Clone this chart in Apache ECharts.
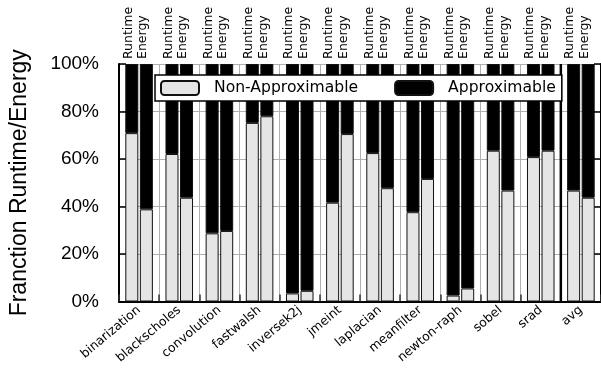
<!DOCTYPE html>
<html>
<head>
<meta charset="utf-8">
<script src="https://cdn.jsdelivr.net/npm/echarts@6/dist/echarts.min.js"></script>
<style>
  html, body { margin: 0; padding: 0; background: #fff; }
  #chart { width: 601px; height: 381px; }
</style>
</head>
<body>
<div id="chart"></div>
<script>
// Benchmarks, one group of two stacked bars (runtime, energy) each
const benchmarks = ['binarization', 'blackscholes', 'convolution', 'fastwalsh', 'inversek2j', 'jmeint',
                    'laplacian', 'meanfilter', 'newton-raph', 'sobel', 'srad', 'avg'];

// Share (%) of runtime / energy spent in non-approximable and approximable code
const runtimeNonApprox = [70.9, 62.1, 28.7, 75.2, 3.4, 41.6, 62.5, 37.6, 2.5, 63.5, 60.8, 46.7];
const runtimeApprox    = [29.1, 37.9, 71.3, 24.8, 96.6, 58.4, 37.5, 62.4, 97.5, 36.5, 39.2, 53.3];
const energyNonApprox  = [38.8, 43.7, 29.7, 78.0, 4.5, 70.5, 47.7, 51.6, 5.5, 46.7, 63.5, 43.7];
const energyApprox     = [61.2, 56.3, 70.3, 22.0, 95.5, 29.5, 52.3, 48.4, 94.5, 53.3, 36.5, 56.3];

const yTicks = [0, 20, 40, 60, 80, 100];

const LIGHT = '#e5e5e5';
const DARK = '#000000';

const chart = echarts.init(document.getElementById('chart'), null, { renderer: 'canvas' });

function barSeries(name, stack, data, color, topText) {
  const s = {
    name: name,
    type: 'bar',
    stack: stack,
    data: data,
    barWidth: 13,
    barGap: '12%',
    itemStyle: { color: color, borderColor: '#111', borderWidth: 1 },
    emphasis: { disabled: true },
    animation: false
  };
  if (topText) {
    // vertical caption just above the top of each bar
    s.label = {
      show: true,
      position: [3, -5],
      rotate: 90,
      align: 'left',
      verticalAlign: 'middle',
      formatter: topText,
      fontFamily: 'DejaVu Sans',
      fontSize: 12.5,
      color: '#000'
    };
  }
  return s;
}

const option = {
  animation: false,
  backgroundColor: '#fff',
  grid: { left: 113, right: -2, top: 64, bottom: 79.5, containLabel: false },
  legend: {
    data: ['Non-Approximable', 'Approximable'],
    left: 155,
    top: 75,
    padding: [5, 6, 5, 5],
    itemGap: 36,
    itemWidth: 38,
    itemHeight: 14,
    backgroundColor: '#fff',
    borderColor: '#000',
    borderWidth: 1.5,
    borderRadius: 0,
    selectedMode: false,
    textStyle: { fontFamily: 'DejaVu Sans', fontSize: 15.6, color: '#000', padding: [0, 0, 0, 10] }
  },
  xAxis: [
    {
      type: 'category',
      data: benchmarks,
      position: 'bottom',
      axisLine: { show: true, lineStyle: { color: '#000', width: 2 } },
      axisTick: { show: true, inside: true, length: 7, interval: 0, lineStyle: { color: '#333', width: 1.5 } },
      splitLine: { show: true, interval: 0, lineStyle: { color: '#b0b0b0', width: 1 } },
      axisLabel: {
        interval: 0, rotate: 40, margin: 7,
        fontFamily: 'DejaVu Sans', fontSize: 12.5, color: '#000'
      }
    },
    {
      type: 'category',
      data: benchmarks,
      position: 'top',
      axisLine: { show: true, lineStyle: { color: '#000', width: 2 } },
      axisTick: { show: false },
      axisLabel: { show: false }
    }
  ],
  yAxis: [
    {
      type: 'value',
      min: yTicks[0],
      max: yTicks[yTicks.length - 1],
      interval: 20,
      position: 'left',
      name: 'Franction Runtime/Energy',
      nameLocation: 'middle',
      nameGap: 88,
      nameTextStyle: { fontFamily: 'Liberation Sans', fontSize: 23, color: '#000' },
      axisLine: { show: true, lineStyle: { color: '#000', width: 2 } },
      axisTick: { show: true, inside: true, length: 7, lineStyle: { color: '#000', width: 1.5 } },
      splitLine: { show: true, lineStyle: { color: '#b0b0b0', width: 1 } },
      axisLabel: {
        formatter: '{value}%', margin: 20,
        fontFamily: 'Liberation Sans', fontSize: 19, color: '#000'
      }
    },
    {
      type: 'value',
      min: yTicks[0],
      max: yTicks[yTicks.length - 1],
      interval: 20,
      position: 'right',
      axisLine: { show: true, lineStyle: { color: '#000', width: 2 } },
      axisTick: { show: true, inside: true, length: 7, lineStyle: { color: '#000', width: 1.5 } },
      splitLine: { show: false },
      axisLabel: { show: false }
    }
  ],
  series: [
    barSeries('Non-Approximable', 'runtime', runtimeNonApprox, LIGHT),
    barSeries('Approximable', 'runtime', runtimeApprox, DARK, 'Runtime'),
    barSeries('Non-Approximable', 'energy', energyNonApprox, LIGHT),
    barSeries('Approximable', 'energy', energyApprox, DARK, 'Energy')
  ]
};

chart.setOption(option);

// Vertical separator between the last benchmark and the average group,
// placed halfway between the two category centres on the x axis
const n = benchmarks.length;
const xLast = chart.convertToPixel({ xAxisIndex: 0 }, benchmarks[n - 2]);
const xAvg = chart.convertToPixel({ xAxisIndex: 0 }, benchmarks[n - 1]);
const xSep = (xLast + xAvg) / 2;
const yTop = chart.convertToPixel({ yAxisIndex: 0 }, yTicks[yTicks.length - 1]);
const yBottom = chart.convertToPixel({ yAxisIndex: 0 }, yTicks[0]);
chart.setOption({
  graphic: [{
    type: 'line',
    silent: true,
    z: 3,
    shape: { x1: xSep, y1: yTop, x2: xSep, y2: yBottom },
    style: { stroke: '#000', lineWidth: 2.5 }
  }]
});
</script>
</body>
</html>
